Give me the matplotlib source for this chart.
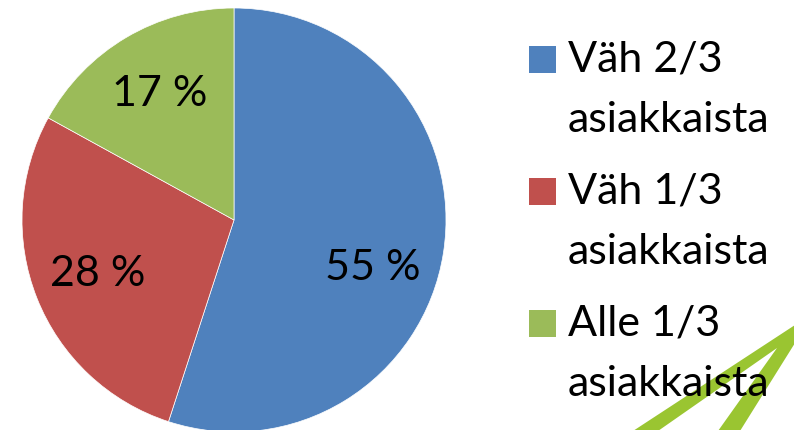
import numpy as np
import matplotlib.pyplot as plt
from matplotlib.patches import Rectangle, Polygon

# data
labels = ["Väh 2/3\nasiakkaista", "Väh 1/3\nasiakkaista", "Alle 1/3\nasiakkaista"]
values = [55, 28, 17]
colors = ["#4F81BD", "#C0504D", "#9BBB59"]

plt.rcParams['font.family'] = ['Lato', 'DejaVu Sans']

W, H = 794, 430
fig = plt.figure(figsize=(W / 100, H / 100), dpi=100)

# green swoosh decoration in the corner (pixel coords -> figure coords)
def px(x, y):
    return (x / W, 1 - y / H)

swoosh = [px(633, 431), px(658, 431), px(777, 348), px(718, 431), px(740, 431),
          px(795, 343), px(795, 325)]
fig.patches.append(Polygon(swoosh, closed=True, transform=fig.transFigure,
                           facecolor="#9AC531", edgecolor="none", zorder=0))

# pie
cx, cy, r = 234, 220, 212
ax = fig.add_axes([(cx - r) / W, (H - cy - r) / H, 2 * r / W, 2 * r / H])
wedges, texts, pcts = ax.pie(values, colors=colors, startangle=90, counterclock=False,
                             autopct=lambda p: f"{p:.0f} %", pctdistance=0.69,
                             wedgeprops=dict(edgecolor="white", linewidth=0.5),
                             textprops=dict(fontsize=31, color="black"))
ax.set_xlim(-1, 1)
ax.set_ylim(-1, 1)
ax.set_aspect("equal")
ax.axis("off")

# Excel's best fit moves the big label a bit lower
a = np.radians(-19)
pcts[0].set_position((0.69 * np.cos(a), 0.69 * np.sin(a)))

# legend drawn by hand so the square sits with the first line
for i, (lab, col) in enumerate(zip(labels, colors)):
    top = 59 + i * 132
    fig.patches.append(Rectangle(px(529, top + 13.5), 27 / W, 27 / H,
                                 transform=fig.transFigure, facecolor=col,
                                 edgecolor="none", zorder=2))
    l1, l2 = lab.split("\n")
    fig.text(568 / W, 1 - (top + 13) / H, l1, fontsize=31, va="baseline", ha="left", zorder=3)
    fig.text(568 / W, 1 - (top + 73) / H, l2, fontsize=31, va="baseline", ha="left", zorder=3)

fig.savefig("out.png", dpi=100)
